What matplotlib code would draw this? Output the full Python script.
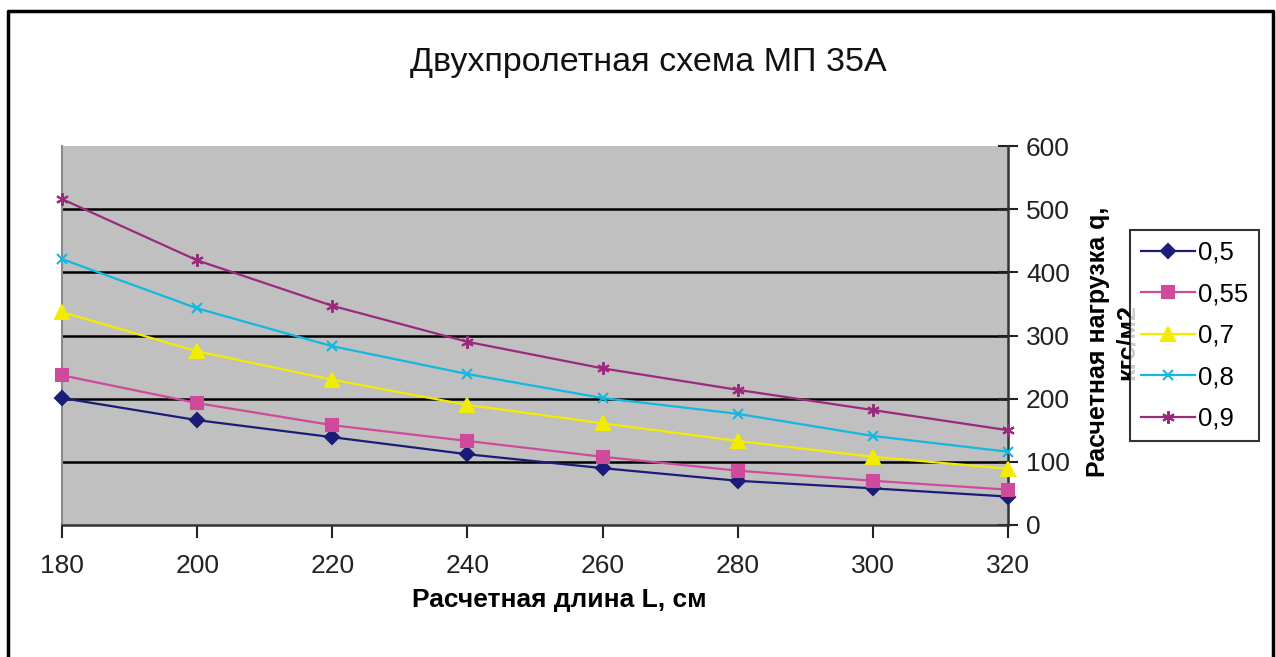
import numpy as np
import matplotlib.pyplot as plt

plt.rcParams['font.family'] = ['Liberation Sans', 'DejaVu Sans']

# span length L, cm
L = [180, 200, 220, 240, 260, 280, 300, 320]

# design load q, kgf/m2, per coefficient
q_05 = [201, 166, 139, 112, 90, 70, 58, 45]
q_055 = [237, 193, 158, 133, 108, 86, 70, 56]
q_07 = [337, 275, 230, 190, 161, 133, 108, 89]
q_08 = [421, 343, 283, 239, 201, 176, 141, 116]
q_09 = [516, 419, 347, 290, 248, 214, 182, 150]

labels = ['0,5', '0,55', '0,7', '0,8', '0,9']
series = [q_05, q_055, q_07, q_08, q_09]
colors = ['#1c1c78', '#d04a9c', '#f2ec00', '#12b8e0', '#9a2a7c']
markers = ['D', 's', '^', 'x', (6, 2, 0)]
msizes = [7, 9, 10, 7, 9]

fig = plt.figure(figsize=(12.76, 6.57), dpi=100)
ax = fig.add_axes([62 / 1276, 1 - 525 / 657, 946 / 1276, 379 / 657])
ax.set_facecolor('#c0c0c0')

for q, lab, c, m, ms in zip(series, labels, colors, markers, msizes):
    ax.plot(L, q, color=c, lw=1.6, marker=m, ms=ms, mec=c, mfc=c,
            mew=1.5, label=lab, clip_on=False, zorder=3)

ax.set_xlim(180, 320)
ax.set_ylim(0, 600)
ax.set_xticks(L)
ax.set_yticks(range(0, 601, 100))
for yv in range(100, 600, 100):
    ax.axhline(yv, color='black', lw=1.8, zorder=1)

ax.yaxis.tick_right()
ax.yaxis.set_label_position('right')
ax.tick_params(axis='x', direction='out', length=9, width=1.5,
               labelsize=19, pad=12, colors='#222222')
ax.tick_params(axis='y', direction='inout', length=14, width=1.5,
               labelsize=19, pad=6, colors='#222222')
for lbl in ax.get_xticklabels() + ax.get_yticklabels():
    lbl.set_color('#222222')

ax.spines['top'].set_visible(False)
ax.spines['left'].set_color('#8a8a8a')
ax.spines['left'].set_linewidth(1.5)
ax.spines['right'].set_color('#333333')
ax.spines['right'].set_linewidth(1.8)
ax.spines['bottom'].set_color('#333333')
ax.spines['bottom'].set_linewidth(1.8)

ax.set_xlabel('Расчетная длина L, см', fontsize=19, fontweight='bold')
ax.xaxis.set_label_coords((559 - 62) / 946, -(600 - 525) / 379)
ax.xaxis.label.set_va('center')
ax.set_ylabel('Расчетная нагрузка q,\nкгс/м2', fontsize=18,
              fontweight='bold', rotation=90, linespacing=1.25)
ax.yaxis.set_label_coords((1112 - 62) / 946, (525 - 342) / 379)
ax.yaxis.label.set_va('center')
ax.yaxis.label.set_ha('center')

fig.text(648 / 1276, 1 - 63 / 657, 'Двухпролетная схема МП 35А',
         fontsize=24.5, ha='center', va='center', color='#111111')

leg = fig.legend(loc='upper left', bbox_to_anchor=(1130 / 1276, 1 - 230 / 657),
                 fontsize=18.5, frameon=True, fancybox=False, handlelength=2.1,
                 handletextpad=0.12, borderpad=0.42, labelspacing=0.68,
                 borderaxespad=0)
leg.get_frame().set_edgecolor('black')
leg.get_frame().set_linewidth(1.5)
leg.set_zorder(10)

# outer chart border
fig.add_artist(plt.Line2D([8 / 1276, 8 / 1276, 1273 / 1276, 1273 / 1276],
                          [0, 1 - 11 / 657, 1 - 11 / 657, 0],
                          transform=fig.transFigure, color='black', lw=2.5))

fig.savefig('out.png', dpi=100)
